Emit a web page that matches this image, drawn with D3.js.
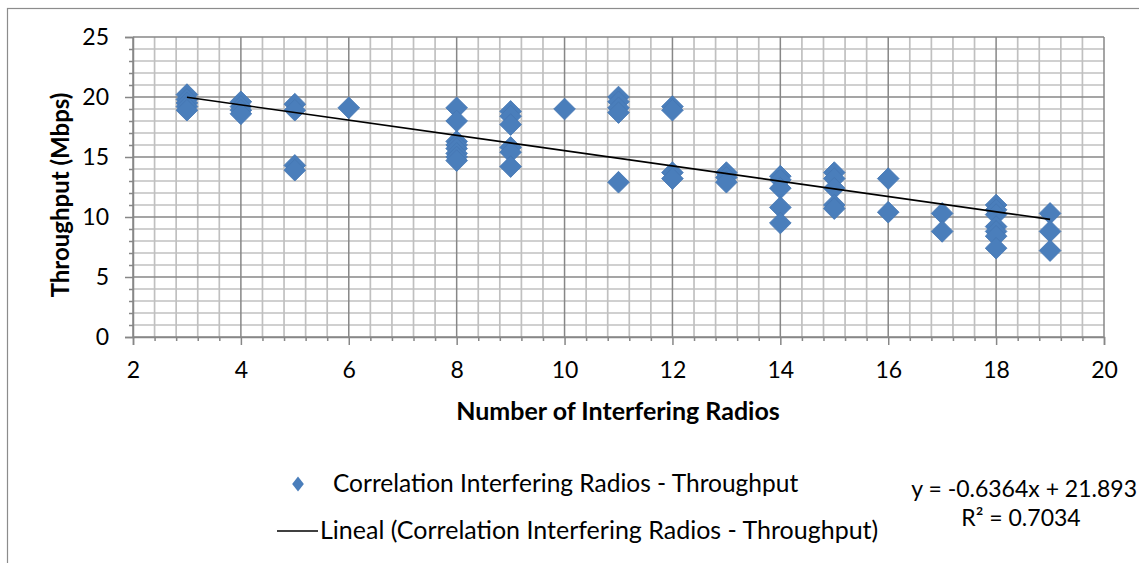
<!DOCTYPE html>
<html lang="en">
<head>
    <meta charset="utf-8">
    <title>Interfering Radios vs Throughput</title>
    <script src="https://cdn.jsdelivr.net/npm/d3@7"></script>
    <style>
        body { margin: 0; background: #fff; }
        svg text { font-family: Lato, "Open Sans", sans-serif; fill: #000; }
    </style>
</head>
<body>
<svg id="chart"></svg>
<script>
    // measured points, grouped by number of interfering radios
    const radios = [3, 4, 5, 6, 8, 9, 10, 11, 12, 13, 14, 15, 16, 17, 18, 19];
    const throughput = [
        [20.2, 19.8, 19.5, 19.2, 18.9],
        [19.6, 19.2, 18.9, 18.6],
        [19.4, 18.9, 14.3, 13.9],
        [19.1],
        [19.1, 18.0, 16.3, 16.0, 15.7, 15.3, 15.0, 14.7],
        [18.8, 18.4, 17.7, 15.8, 15.4, 14.2],
        [19.0],
        [20.0, 19.6, 19.1, 18.7, 12.9],
        [19.2, 18.9, 13.7, 13.2],
        [13.7, 13.3, 12.9],
        [13.4, 13.1, 12.4, 10.8, 9.5],
        [13.7, 13.2, 12.4, 11.0, 10.7],
        [13.2, 10.4],
        [10.3, 8.8],
        [11.0, 10.6, 10.2, 9.2, 8.8, 8.4, 7.4],
        [10.3, 8.8, 7.2]
    ];
    const xTicks = [2, 4, 6, 8, 10, 12, 14, 16, 18, 20];
    const yTicks = [0, 5, 10, 15, 20, 25];
    const trendSlope = -0.6364;
    const trendIntercept = 21.893;
    const seriesName = "Correlation Interfering Radios - Throughput";
    const trendName = "Lineal (Correlation Interfering Radios - Throughput)";
    const equationText = "y = -0.6364x + 21.893";
    const r2Text = "R² = 0.7034";

    const points = [];
    radios.forEach((r, i) => throughput[i].forEach(v => points.push({x: r, y: v})));

    const width = 1139, height = 563;
    const plot = {left: 133, right: 1104, top: 37, bottom: 337};
    const fs = 23, fsBig = 25;

    const svg = d3.select("#chart").attr("width", width).attr("height", height);

    // chart frame
    svg.append("rect")
        .attr("x", 7.5).attr("y", 8.5)
        .attr("width", width + 10).attr("height", height + 10)
        .attr("fill", "none").attr("stroke", "#8c8c8c").attr("stroke-width", 1.2);

    const x = d3.scaleLinear().domain([2, 20]).range([plot.left, plot.right]);
    const y = d3.scaleLinear().domain([0, 25]).range([plot.bottom, plot.top]);

    const xMinor = d3.range(2, 20.001, 0.4).filter(v => Math.abs(v / 2 - Math.round(v / 2)) > 1e-6);
    const yMinor = d3.range(0, 25.001, 1).filter(v => v % 5 !== 0);

    // minor gridlines
    const grid = svg.append("g");
    grid.selectAll(".vminor").data(xMinor).join("line")
        .attr("x1", d => x(d)).attr("x2", d => x(d))
        .attr("y1", plot.top).attr("y2", plot.bottom)
        .attr("stroke", "#c0c0c0").attr("stroke-width", 1.7);
    grid.selectAll(".hminor").data(yMinor).join("line")
        .attr("x1", plot.left).attr("x2", plot.right)
        .attr("y1", d => y(d)).attr("y2", d => y(d))
        .attr("stroke", "#c0c0c0").attr("stroke-width", 1.7);
    // major gridlines
    grid.selectAll(".vmajor").data(xTicks).join("line")
        .attr("x1", d => x(d)).attr("x2", d => x(d))
        .attr("y1", plot.top).attr("y2", plot.bottom)
        .attr("stroke", "#878787").attr("stroke-width", 1.5);
    grid.selectAll(".hmajor").data(yTicks).join("line")
        .attr("x1", plot.left).attr("x2", plot.right)
        .attr("y1", d => y(d)).attr("y2", d => y(d))
        .attr("stroke", "#878787").attr("stroke-width", 1.5);

    // axes
    const xAxis = svg.append("g").attr("transform", `translate(0,${plot.bottom})`)
        .call(d3.axisBottom(x).tickValues(xTicks).tickSize(8).tickPadding(17));
    svg.append("g").attr("transform", `translate(0,${plot.bottom})`)
        .call(d3.axisBottom(x).tickValues(xMinor).tickSize(4).tickFormat(""))
        .call(g => g.select(".domain").remove());
    const yAxis = svg.append("g").attr("transform", `translate(${plot.left},0)`)
        .call(d3.axisLeft(y).tickValues(yTicks).tickSize(8).tickPadding(16));
    svg.append("g").attr("transform", `translate(${plot.left},0)`)
        .call(d3.axisLeft(y).tickValues(yMinor).tickSize(4).tickFormat(""))
        .call(g => g.select(".domain").remove());

    svg.selectAll(".domain, .tick line").attr("stroke", "#878787").attr("stroke-width", 1.5);
    xAxis.selectAll("text").attr("font-size", fs);
    yAxis.selectAll("text").attr("font-size", fs);

    // axis titles
    svg.append("text")
        .attr("x", 618).attr("y", 420)
        .attr("text-anchor", "middle").attr("font-size", fsBig).attr("font-weight", "bold")
        .text("Number of Interfering Radios");
    svg.append("text")
        .attr("transform", `translate(69,${(plot.top + plot.bottom) / 2 + 8}) rotate(-90)`)
        .attr("text-anchor", "middle").attr("font-size", fsBig - 1).attr("font-weight", "bold")
        .text("Throughput (Mbps)");

    // points
    const diamond = d3.symbol(d3.symbolSquare, 235);
    svg.append("g").selectAll("path").data(points).join("path")
        .attr("d", diamond)
        .attr("transform", d => `translate(${x(d.x)},${y(d.y)}) rotate(45)`)
        .attr("fill", "#4a7ebb")
        .attr("stroke", "#4677b3").attr("stroke-width", 0.8);

    // linear trendline
    const xExt = d3.extent(radios);
    svg.append("line")
        .attr("x1", x(xExt[0])).attr("y1", y(trendSlope * xExt[0] + trendIntercept))
        .attr("x2", x(xExt[1])).attr("y2", y(trendSlope * xExt[1] + trendIntercept))
        .attr("stroke", "#000").attr("stroke-width", 1.6);

    // legend
    const legend = svg.append("g");
    legend.append("path")
        .attr("d", d3.symbol(d3.symbolSquare, 95))
        .attr("transform", "translate(298,484) scale(0.85,1.1) rotate(45)")
        .attr("fill", "#4a7ebb");
    legend.append("text").attr("x", 333).attr("y", 492).attr("font-size", fsBig - 0.5).text(seriesName);
    legend.append("line")
        .attr("x1", 277).attr("x2", 318).attr("y1", 531).attr("y2", 531)
        .attr("stroke", "#000").attr("stroke-width", 1.6);
    legend.append("text").attr("x", 320).attr("y", 539).attr("font-size", fsBig).text(trendName);

    // trendline equation
    svg.append("text").attr("x", 1137).attr("y", 497)
        .attr("text-anchor", "end").attr("font-size", fs).text(equationText);
    svg.append("text").attr("x", 1021).attr("y", 526)
        .attr("text-anchor", "middle").attr("font-size", fs).text(r2Text);
</script>
</body>
</html>
